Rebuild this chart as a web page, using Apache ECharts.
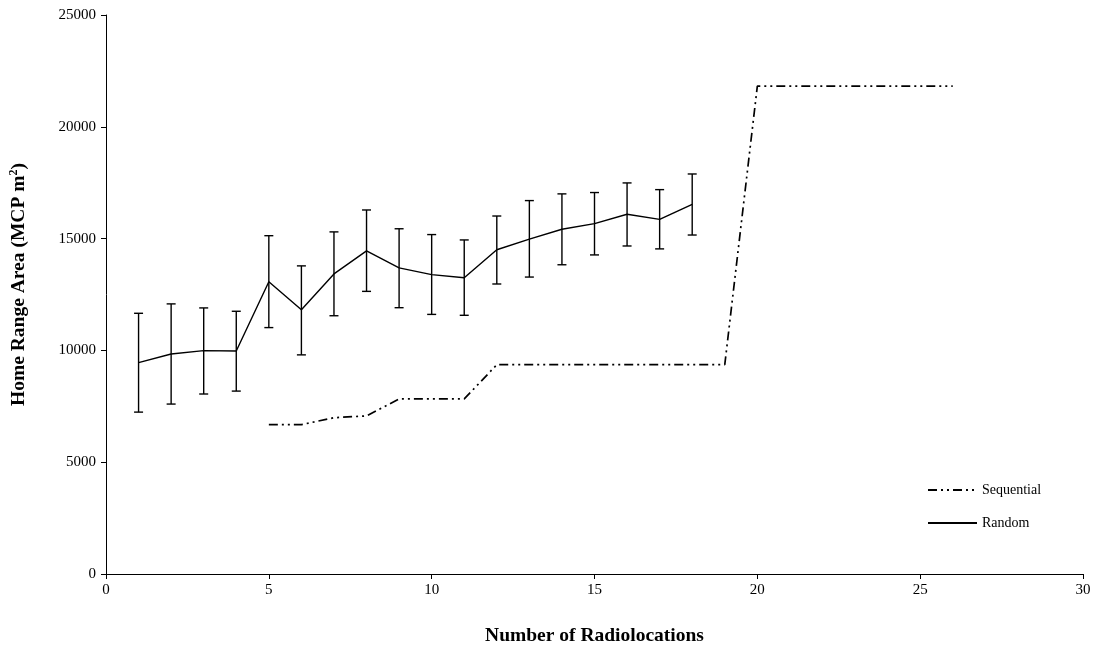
<!DOCTYPE html>
<html>
<head>
<meta charset="utf-8">
<script src="https://cdn.jsdelivr.net/npm/echarts@6/dist/echarts.min.js"></script>
<style>
html,body{margin:0;padding:0;background:#fff;}
#c{width:1101px;height:652px;}
</style>
</head>
<body>
<div id="c"></div>
<script>
// Random subsampling: number of radiolocations, mean, upper and lower error bar ends
const randomX = [1,2,3,4,5,6,7,8,9,10,11,12,13,14,15,16,17,18];
const randomMean = [9450,9840,9990,9970,13070,11820,13420,14450,13690,13390,13250,14500,14980,15420,15670,16090,15860,16530];
const randomUpper = [11660,12080,11900,11750,15130,13780,15300,16280,15440,15180,14940,16010,16700,17000,17060,17490,17190,17890];
const randomLower = [7240,7600,8050,8180,11020,9800,11550,12640,11910,11610,11570,12970,13280,13830,14270,14670,14540,15160];

// Sequential accumulation
const seqX = [5,6,7,8,9,10,11,12,13,14,15,16,17,18,19,20,21,22,23,24,25,26];
const seqValues = [6680,6680,6990,7070,7830,7830,7830,9360,9360,9360,9360,9360,9360,9360,9360,21820,21820,21820,21820,21820,21820,21820];

const xTicks = [0,30,5];
const yTicks = [0,25000,5000];

const chart = echarts.init(document.getElementById('c'));
const font = '"Liberation Serif", "Times New Roman", serif';

const randomData = randomX.map((x,i)=>[x, randomMean[i]]);
const errData = randomX.map((x,i)=>[x, randomLower[i], randomUpper[i]]);
const seqData = seqX.map((x,i)=>[x, seqValues[i]]);

chart.setOption({
  animation:false,
  backgroundColor:'#fff',
  textStyle:{fontFamily:font,color:'#000'},
  grid:{left:104.5,right:18,top:15,bottom:78},
  legend:{
    orient:'vertical',
    left:922, top:478,
    itemWidth:49, itemHeight:14, itemGap:19,
    itemStyle:{opacity:0},
    textStyle:{fontFamily:font,fontSize:14,color:'#000'},
    data:['Sequential','Random']
  },
  xAxis:{
    type:'value', min:xTicks[0], max:xTicks[1], interval:xTicks[2],
    name:'Number of Radiolocations', nameLocation:'middle', nameGap:52,
    nameTextStyle:{fontFamily:font,fontSize:19.5,fontWeight:'bold',color:'#000'},
    axisLine:{lineStyle:{color:'#000',width:1}},
    axisTick:{length:5,lineStyle:{color:'#000'}},
    axisLabel:{fontFamily:font,fontSize:15,color:'#000',margin:9},
    splitLine:{show:false}
  },
  yAxis:{
    type:'value', min:yTicks[0], max:yTicks[1], interval:yTicks[2],
    name:'{a|Home Range Area (MCP m}{s|2}{a|)}', nameLocation:'middle', nameGap:76,
    nameTextStyle:{
      padding:[0,0,0,20],
      rich:{
        a:{fontFamily:font,fontSize:19.5,fontWeight:'bold',color:'#000',lineHeight:22},
        s:{fontFamily:font,fontSize:12,fontWeight:'bold',color:'#000',verticalAlign:'top',lineHeight:22,padding:[0,0,8,0]}
      }
    },
    axisLine:{show:true,lineStyle:{color:'#000',width:1}},
    axisTick:{show:true,length:5,lineStyle:{color:'#000'}},
    axisLabel:{fontFamily:font,fontSize:15,color:'#000',margin:10,formatter:function(v){return String(v);}},
    splitLine:{show:false}
  },
  series:[
    {
      name:'Sequential', type:'line', data:seqData,
      symbol:'none', smooth:false,
      lineStyle:{color:'#000',width:1.7,type:[9,4,2,4,2,4]},
      itemStyle:{color:'#000'}
    },
    {
      name:'Random', type:'line', data:randomData,
      symbol:'none',
      lineStyle:{color:'#000',width:1.4},
      itemStyle:{color:'#000'}
    },
    {
      name:'RandomErr', type:'custom', data:errData,
      renderItem:function(params, api){
        const x = api.value(0);
        const lo = api.coord([x, api.value(1)]);
        const hi = api.coord([x, api.value(2)]);
        const w = 4.5;
        const st = {stroke:'#000', lineWidth:1.4};
        return {type:'group', children:[
          {type:'line', shape:{x1:lo[0],y1:lo[1],x2:hi[0],y2:hi[1]}, style:st},
          {type:'line', shape:{x1:lo[0]-w,y1:lo[1],x2:lo[0]+w,y2:lo[1]}, style:st},
          {type:'line', shape:{x1:hi[0]-w,y1:hi[1],x2:hi[0]+w,y2:hi[1]}, style:st}
        ]};
      },
      encode:{x:0,y:[1,2]},
      z:3
    }
  ]
});
</script>
</body>
</html>
